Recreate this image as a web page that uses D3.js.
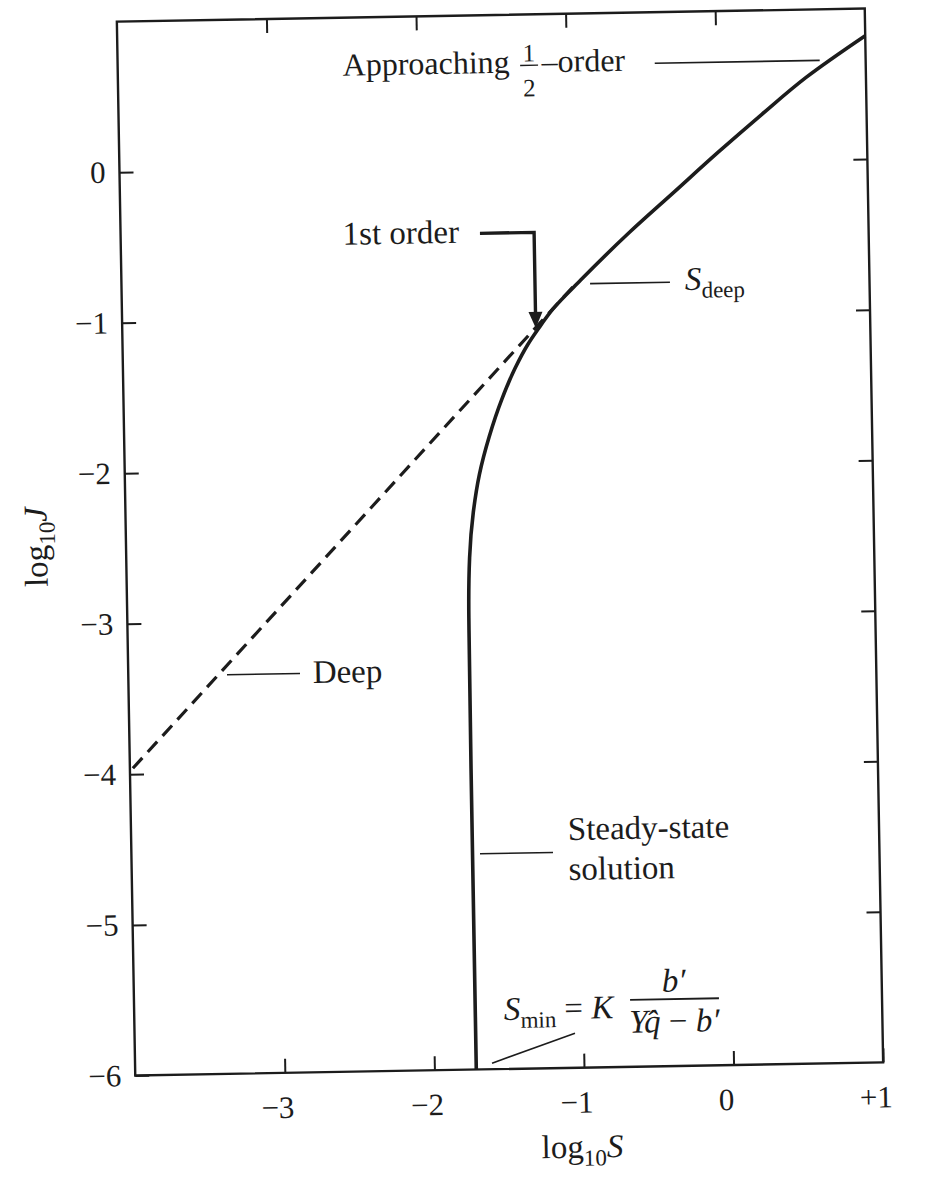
<!DOCTYPE html>
<html>
<head>
<meta charset="utf-8">
<script src="https://cdn.jsdelivr.net/npm/d3@7"></script>
<style>
  html, body { margin: 0; padding: 0; background: #fff; }
  svg { display: block; }
  text { font-family: "Liberation Serif", "Times New Roman", serif; fill: #1c1c1c; }
</style>
</head>
<body>
<svg id="chart" width="940" height="1178"></svg>
<script>
// axis ticks (log10 S along the bottom, log10 J up the side)
const xTicks = [-3, -2, -1, 0, 1];
const xTickLabels = ['\u22123', '\u22122', '\u22121', '0', '+1'];
const topTicks = [-3, -2, -1, 0];
const yTicks = [-6, -5, -4, -3, -2, -1, 0];
const yTickLabels = ['\u22126', '\u22125', '\u22124', '\u22123', '\u22122', '\u22121', '0'];
const rightTicks = [-5, -4, -3, -2, -1, 0];

// steady-state solution
const steadyLogS = [-1.72, -1.72, -1.717, -1.705, -1.675, -1.63, -1.56, -1.47, -1.38, -1.29, -1.22, -1.12, -0.93, -0.60, -0.30, 0.00, 0.30, 0.60, 1.00];
const steadyLogJ = [-6.00, -4.00, -3.00, -2.60, -2.30, -2.05, -1.80, -1.55, -1.35, -1.19, -1.09, -0.96, -0.77, -0.46, -0.20, 0.06, 0.31, 0.55, 0.82];

// deep biofilm (first order) line
const deepLogS = [-3.98, -0.95];
const deepLogJ = [-3.96, -0.78];

const margin = { left: 126, top: 15 },
  width = 748,
  height = 1054;
const ink = '#1c1c1c';

const svg = d3.select('#chart');
// the scanned page sits about a degree off square
const g = svg.append('g')
  .attr('transform', 'rotate(-1,500,542) translate(' + margin.left + ',' + margin.top + ')');

const x = d3.scaleLinear().domain([-4, 1]).range([0, width]);
const y = d3.scaleLinear().domain([-6, 1]).range([height, 0]);

function styleAxis(sel) {
  sel.select('.domain').remove();
  sel.selectAll('.tick line').attr('stroke', ink).attr('stroke-width', 2);
  sel.selectAll('.tick text')
    .attr('fill', ink)
    .attr('font-family', '"Liberation Serif", serif')
    .attr('font-size', 31);
  sel.attr('font-family', null).attr('font-size', null);
}

g.append('g')
  .attr('class', 'x axis')
  .attr('transform', 'translate(0,' + height + ')')
  .call(d3.axisBottom(x).tickValues(xTicks).tickSize(-14).tickPadding(23)
    .tickFormat(d => xTickLabels[xTicks.indexOf(d)]))
  .call(styleAxis)
  .selectAll('.tick text').attr('dx', -8);

g.append('g')
  .attr('class', 'x axis top')
  .call(d3.axisTop(x).tickValues(topTicks).tickSize(-14).tickFormat(''))
  .call(styleAxis);

g.append('g')
  .attr('class', 'y axis')
  .call(d3.axisLeft(y).tickValues(yTicks).tickSize(-14).tickPadding(14)
    .tickFormat(d => yTickLabels[yTicks.indexOf(d)]))
  .call(styleAxis);

g.append('g')
  .attr('class', 'y axis right')
  .attr('transform', 'translate(' + width + ',0)')
  .call(d3.axisRight(y).tickValues(rightTicks).tickSize(-14).tickFormat(''))
  .call(styleAxis);

g.append('rect')
  .attr('width', width)
  .attr('height', height)
  .attr('fill', 'none')
  .attr('stroke', ink)
  .attr('stroke-width', 2.4);

// curves
const line = d3.line()
  .x(d => x(d[0]))
  .y(d => y(d[1]));

const deep = deepLogS.map((s, i) => [s, deepLogJ[i]]);
g.append('path')
  .datum(deep)
  .attr('fill', 'none')
  .attr('stroke', ink)
  .attr('stroke-width', 3.2)
  .attr('stroke-dasharray', '14 8')
  .attr('d', line);

const steady = steadyLogS.map((s, i) => [s, steadyLogJ[i]]).reverse();
g.append('path')
  .datum(steady)
  .attr('fill', 'none')
  .attr('stroke', ink)
  .attr('stroke-width', 3.6)
  .attr('stroke-linejoin', 'round')
  .attr('d', line.curve(d3.curveMonotoneY));

// annotations
function leader(x1, y1, x2, y2, w) {
  g.append('line')
    .attr('x1', x(x1)).attr('y1', y(y1))
    .attr('x2', x(x2)).attr('y2', y(y2))
    .attr('stroke', ink)
    .attr('stroke-width', w || 1.6);
}
function label(xv, yv, size) {
  return g.append('text')
    .attr('x', x(xv))
    .attr('y', y(yv))
    .attr('font-size', size || 33);
}

// approaching 1/2 order
label(-2.496, 0.615, 32).text('Approaching');
label(-1.25, 0.688, 25).attr('text-anchor', 'middle').text('1');
leader(-1.31, 0.662, -1.19, 0.662, 1.4);
label(-1.25, 0.455, 25).attr('text-anchor', 'middle').text('2');
label(-1.166, 0.615, 32).text('\u2013order');
leader(-0.41, 0.661, 0.693, 0.661);

// 1st order with bent arrow
label(-2.516, -0.508).text('1st order');
g.append('path')
  .attr('d', 'M' + x(-1.598) + ',' + y(-0.448) + 'H' + x(-1.236) + 'V' + (y(-1.083) - 12))
  .attr('fill', 'none')
  .attr('stroke', ink)
  .attr('stroke-width', 3.4);
g.append('path')
  .attr('d', 'M' + (x(-1.236) - 7) + ',' + (y(-1.083) - 16) +
    'L' + x(-1.236) + ',' + y(-1.083) +
    'L' + (x(-1.236) + 7) + ',' + (y(-1.083) - 16) + 'Z')
  .attr('fill', ink);

// S deep
leader(-0.868, -0.795, -0.334, -0.795);
const sd = label(-0.234, -0.848);
sd.append('tspan').attr('font-style', 'italic').text('S');
sd.append('tspan').attr('font-size', 23).attr('dy', 8).text('deep');

// Deep
leader(-3.34, -3.35, -2.852, -3.35);
label(-2.767, -3.415).text('Deep');

// steady-state solution
leader(-1.67, -4.568, -1.182, -4.568);
label(-1.08, -4.487).text('Steady-state');
label(-1.08, -4.753).text('solution');

// S min formula
leader(-1.614, -5.96, -1.056, -5.77);
const sm = label(-1.529, -5.675);
sm.append('tspan').attr('font-style', 'italic').text('S');
sm.append('tspan').attr('font-size', 23).attr('dy', 8).text('min');
sm.append('tspan').attr('dy', -8).text(' = ');
sm.append('tspan').attr('font-style', 'italic').text('K');
leader(-0.684, -5.555, -0.09, -5.555, 1.8);
label(-0.39, -5.505).attr('text-anchor', 'middle').attr('font-style', 'italic').text('b\u2032');
const den = label(-0.39, -5.774).attr('text-anchor', 'middle');
den.append('tspan').attr('font-style', 'italic').text('Yq\u0302');
den.append('tspan').text(' \u2212 ');
den.append('tspan').attr('font-style', 'italic').text('b\u2032');

// axis titles
const xt = g.append('text')
  .attr('x', x(-1.02))
  .attr('y', height + 90)
  .attr('text-anchor', 'middle')
  .attr('font-size', 33);
xt.append('tspan').text('log');
xt.append('tspan').attr('font-size', 23).attr('dy', 8).text('10');
xt.append('tspan').attr('dy', -8).attr('font-style', 'italic').text('S');

const yt = g.append('text')
  .attr('transform', 'translate(-79,' + y(-2.48) + ') rotate(-90)')
  .attr('text-anchor', 'middle')
  .attr('font-size', 33);
yt.append('tspan').text('log');
yt.append('tspan').attr('font-size', 23).attr('dy', 8).text('10');
yt.append('tspan').attr('dy', -8).attr('font-style', 'italic').text('J');
</script>
</body>
</html>
